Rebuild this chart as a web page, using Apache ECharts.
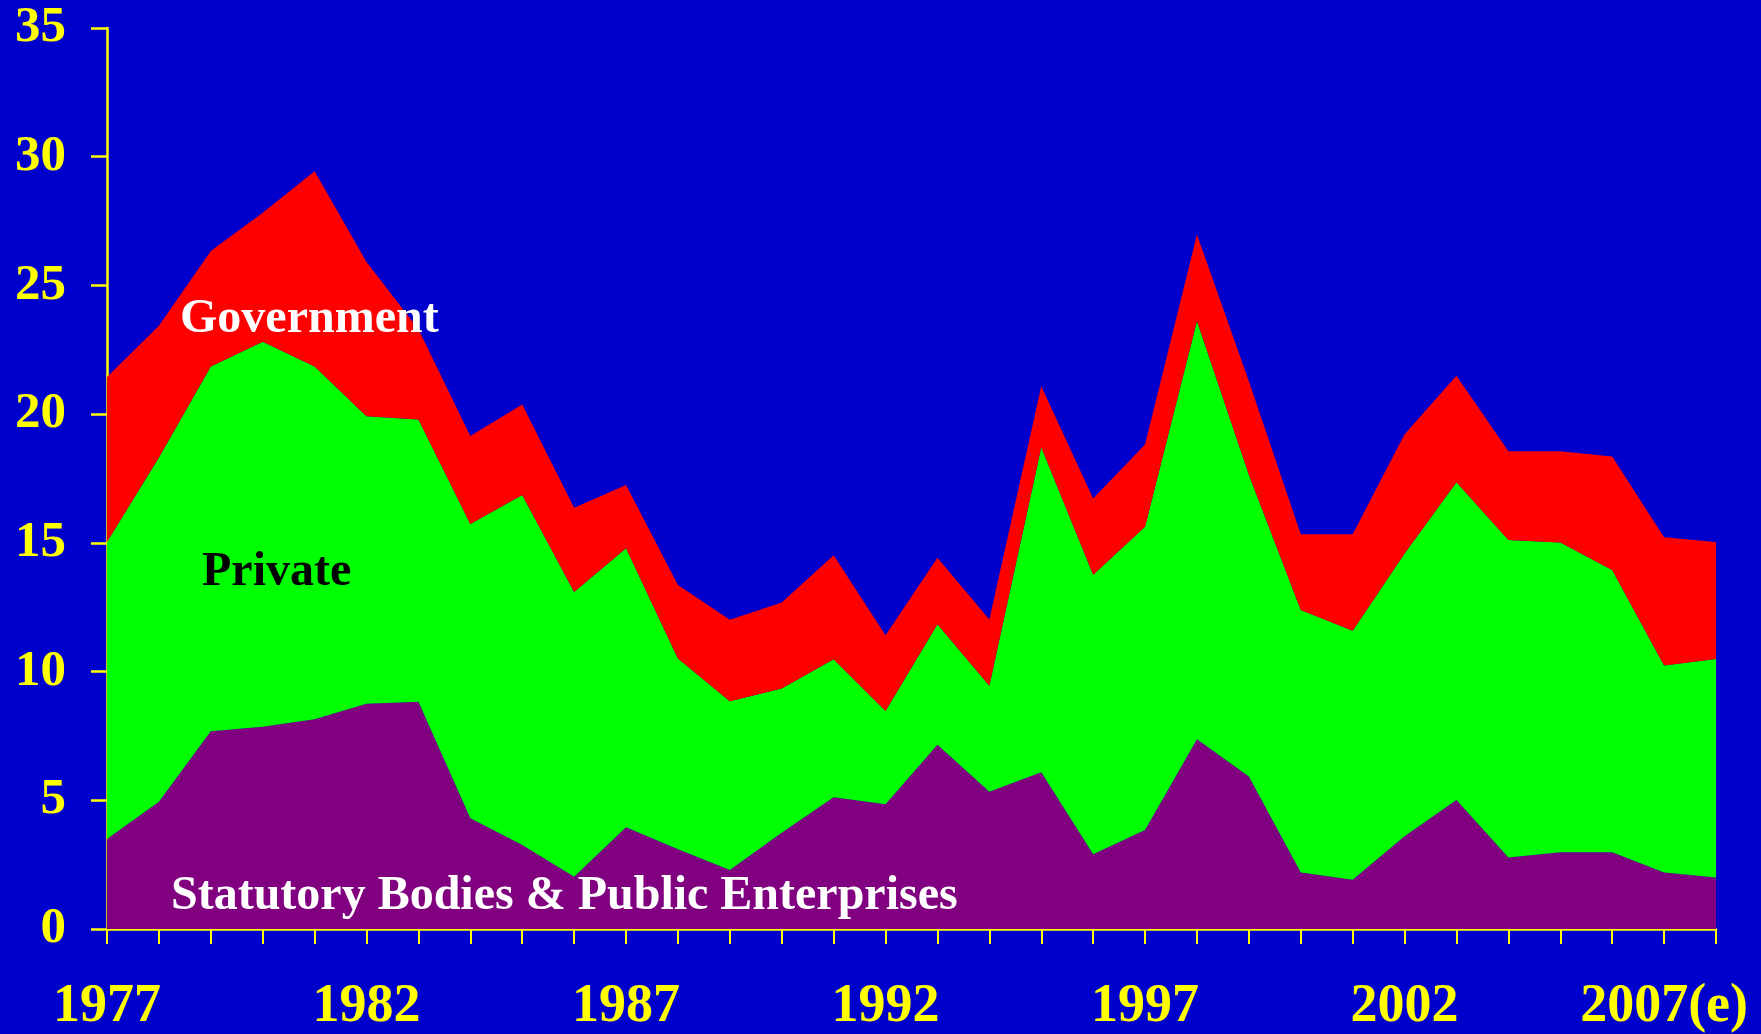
<!DOCTYPE html>
<html>
<head>
<meta charset="utf-8">
<script src="https://cdn.jsdelivr.net/npm/echarts@6/dist/echarts.min.js"></script>
<style>
html,body{margin:0;padding:0;background:#0000CC;}
#chart{width:1761px;height:1034px;}
</style>
</head>
<body>
<div id="chart"></div>
<script>
var years = ['1977','1978','1979','1980','1981','1982','1983','1984','1985','1986','1987','1988','1989','1990','1991','1992','1993','1994','1995','1996','1997','1998','1999','2000','2001','2002','2003','2004','2005','2006','2007','2008'];
var xTickLabels = {'1977':'1977','1982':'1982','1987':'1987','1992':'1992','1997':'1997','2002':'2002','2007':'2007(e)'};
var yTicks = [0,5,10,15,20,25,30,35];

var statutory = [3.50,4.94,7.68,7.86,8.15,8.75,8.83,4.30,3.26,2.03,3.95,3.10,2.29,3.74,5.12,4.85,7.16,5.33,6.09,2.90,3.85,7.37,5.92,2.19,1.91,3.60,5.01,2.78,2.98,2.98,2.19,2.00];
var privateSec = [11.53,13.38,14.17,14.95,13.70,11.17,10.96,11.43,13.60,11.06,10.84,7.41,6.56,5.60,5.36,3.62,4.68,4.12,12.62,10.86,11.78,16.25,11.73,10.20,9.68,10.99,12.34,12.33,12.03,10.97,8.05,8.49];
var government = [6.41,5.11,4.49,5.01,7.59,5.99,3.51,3.42,3.51,3.27,2.46,2.85,3.16,3.34,4.04,2.94,2.58,2.57,2.37,2.96,3.19,3.36,3.63,2.94,3.74,4.63,4.14,3.45,3.55,4.40,4.98,4.54];

var seriesNames = ['Statutory Bodies & Public Enterprises','Private','Government'];

var font = 'Liberation Serif, Times New Roman, serif';
var chart = echarts.init(document.getElementById('chart'), null, {renderer:'canvas'});

function areaSeries(name, data, color){
  return {
    name: name, type: 'line', stack: 'total', data: data,
    symbol: 'none', smooth: false,
    lineStyle: {width: 0, color: color},
    areaStyle: {color: color, opacity: 1},
    itemStyle: {color: color},
    silent: true, animation: false
  };
}

chart.setOption({
  backgroundColor: '#0000CC',
  animation: false,
  grid: {left: 107, right: 45, top: 28, bottom: 104, containLabel: false},
  xAxis: {
    type: 'category', data: years, boundaryGap: false,
    axisLine: {show: true, lineStyle: {color: '#FFFF00', width: 2.5}},
    axisTick: {show: true, interval: 0, length: 15, lineStyle: {color: '#FFFF00', width: 2}},
    axisLabel: {
      interval: function(i, v){ return xTickLabels[v] !== undefined; },
      formatter: function(v){ return xTickLabels[v] || ''; },
      color: '#FFFF00', fontFamily: font, fontWeight: 'bold', fontSize: 54, margin: 51
    },
    splitLine: {show: false}
  },
  yAxis: {
    type: 'value', min: yTicks[0], max: yTicks[yTicks.length-1], interval: 5,
    axisLine: {show: true, lineStyle: {color: '#FFFF00', width: 2.5}},
    axisTick: {show: true, length: 16, lineStyle: {color: '#FFFF00', width: 2.5}},
    axisLabel: {color: '#FFFF00', fontFamily: font, fontWeight: 'bold', fontSize: 51, margin: 41},
    splitLine: {show: false}
  },
  series: [
    areaSeries(seriesNames[0], statutory, '#800080'),
    areaSeries(seriesNames[1], privateSec, '#00FF00'),
    areaSeries(seriesNames[2], government, '#FF0000')
  ],
  graphic: [
    {type: 'text', left: 180, top: 296, style: {text: seriesNames[2], fill: '#FFFFFF', font: 'bold 48px ' + font}, z: 100},
    {type: 'text', left: 202, top: 549, style: {text: seriesNames[1], fill: '#000000', font: 'bold 48px ' + font}, z: 100},
    {type: 'text', left: 171, top: 873, style: {text: seriesNames[0], fill: '#FFFFFF', font: 'bold 48px ' + font}, z: 100}
  ]
});
</script>
</body>
</html>
